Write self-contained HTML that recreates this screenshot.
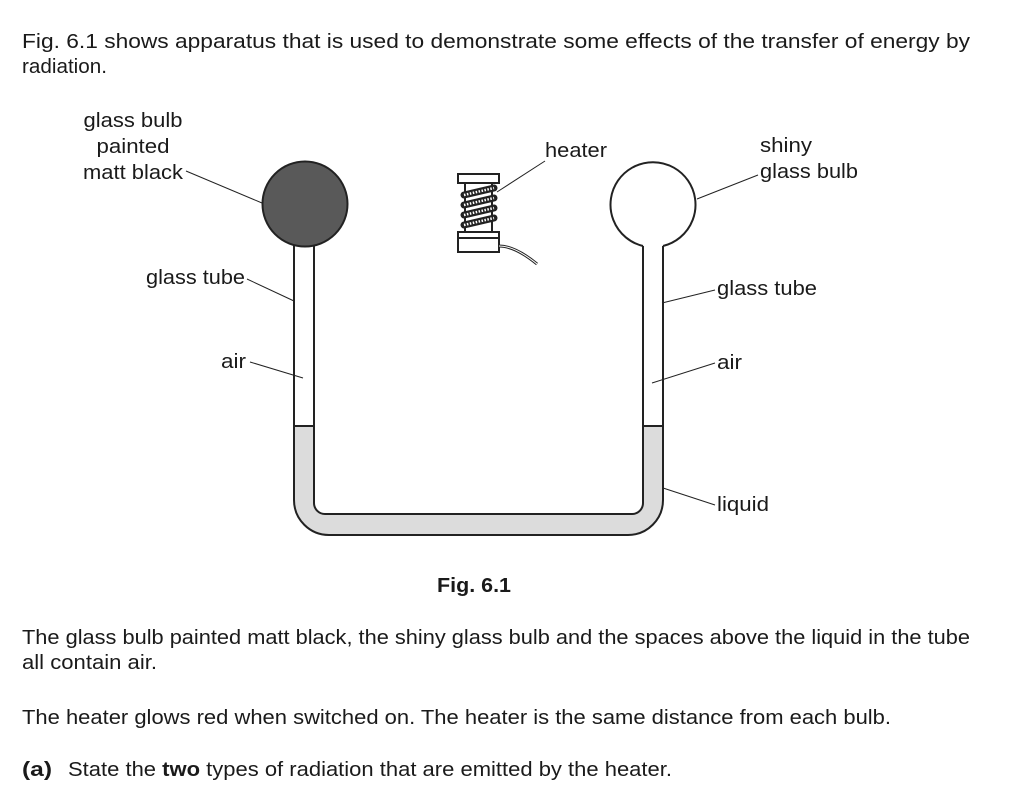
<!DOCTYPE html>
<html><head><meta charset="utf-8"><style>
html,body{margin:0;padding:0;background:#fff;}
svg{display:block;font-family:"Liberation Sans",Arial,sans-serif;}
</style></head><body>
<svg width="1024" height="790" viewBox="0 0 1024 790" xmlns="http://www.w3.org/2000/svg">
<g font-size="20.5" fill="#1a1a1a">
<text x="22" y="48" textLength="948" lengthAdjust="spacingAndGlyphs">Fig. 6.1 shows apparatus that is used to demonstrate some effects of the transfer of energy by</text>
<text x="22" y="73" textLength="85" lengthAdjust="spacingAndGlyphs">radiation.</text>
<text x="133" y="127" text-anchor="middle" textLength="99" lengthAdjust="spacingAndGlyphs">glass bulb</text>
<text x="133" y="153" text-anchor="middle" textLength="73" lengthAdjust="spacingAndGlyphs">painted</text>
<text x="133" y="179" text-anchor="middle" textLength="100" lengthAdjust="spacingAndGlyphs">matt black</text>
<text x="545" y="157" textLength="62" lengthAdjust="spacingAndGlyphs">heater</text>
<text x="760" y="152" textLength="52" lengthAdjust="spacingAndGlyphs">shiny</text>
<text x="760" y="178" textLength="98" lengthAdjust="spacingAndGlyphs">glass bulb</text>
<text x="146" y="284" textLength="99" lengthAdjust="spacingAndGlyphs">glass tube</text>
<text x="221" y="368" textLength="25" lengthAdjust="spacingAndGlyphs">air</text>
<text x="717" y="295" textLength="100" lengthAdjust="spacingAndGlyphs">glass tube</text>
<text x="717" y="369" textLength="25" lengthAdjust="spacingAndGlyphs">air</text>
<text x="717" y="511" textLength="52" lengthAdjust="spacingAndGlyphs">liquid</text>
<text x="474" y="592" text-anchor="middle" font-weight="bold" textLength="74" lengthAdjust="spacingAndGlyphs">Fig. 6.1</text>
<text x="22" y="644" textLength="948" lengthAdjust="spacingAndGlyphs">The glass bulb painted matt black, the shiny glass bulb and the spaces above the liquid in the tube</text>
<text x="22" y="669" textLength="135" lengthAdjust="spacingAndGlyphs">all contain air.</text>
<text x="22" y="724" textLength="869" lengthAdjust="spacingAndGlyphs">The heater glows red when switched on. The heater is the same distance from each bulb.</text>
<text x="22" y="776" font-weight="bold" textLength="30" lengthAdjust="spacingAndGlyphs">(a)</text>
<text x="68" y="776" textLength="604" lengthAdjust="spacingAndGlyphs">State the <tspan font-weight="bold">two</tspan> types of radiation that are emitted by the heater.</text>
</g>
<g stroke="#222" fill="none" stroke-width="1">
<line x1="186" y1="171" x2="262" y2="203"/>
<line x1="545" y1="161" x2="497" y2="192"/>
<line x1="758" y1="175" x2="697" y2="199"/>
<line x1="247" y1="279" x2="294" y2="301"/>
<line x1="250" y1="362" x2="303" y2="378"/>
<line x1="715" y1="290" x2="662" y2="303"/>
<line x1="715" y1="363" x2="652" y2="383"/>
<line x1="715" y1="505" x2="660" y2="487"/>
</g>
<path d="M294 426 V500 A35 35 0 0 0 329 535 H628 A35 35 0 0 0 663 500 V426 H643 V503 A11 11 0 0 1 632 514 H325 A11 11 0 0 1 314 503 V426 Z" fill="#dcdcdc" stroke="#222" stroke-width="2"/>
<line x1="294" y1="426" x2="314" y2="426" stroke="#222" stroke-width="2"/>
<line x1="643" y1="426" x2="663" y2="426" stroke="#222" stroke-width="2"/>
<line x1="294" y1="244" x2="294" y2="426" stroke="#222" stroke-width="2"/>
<line x1="314" y1="244" x2="314" y2="426" stroke="#222" stroke-width="2"/>
<line x1="643" y1="244" x2="643" y2="426" stroke="#222" stroke-width="2"/>
<line x1="663" y1="244" x2="663" y2="426" stroke="#222" stroke-width="2"/>
<circle cx="305" cy="204" r="42.5" fill="#595959" stroke="#222" stroke-width="2"/>
<path d="M643 246 A42.5 42.5 0 1 1 663 246" fill="#fff" stroke="#222" stroke-width="2"/>
<g stroke="#222" stroke-width="2" fill="#fff">
<rect x="458" y="174" width="41" height="9"/>
<line x1="465" y1="183" x2="465" y2="232"/>
<line x1="492" y1="183" x2="492" y2="232"/>
<rect x="458" y="232" width="41" height="20"/>
<line x1="458" y1="238" x2="499" y2="238"/>
<path d="M499 246 Q515 246 537 264" fill="none" stroke-width="3"/>
<path d="M499 246 Q515 246 537 264" fill="none" stroke="#fff" stroke-width="1"/>
</g>
<g stroke="#222" stroke-width="7" fill="none" stroke-linecap="round">
<path d="M464 195 L494 188 M464 205 L494 198 M464 215 L494 208 M464 225 L494 218"/>
</g>
<g stroke="#fff" stroke-width="2.5" fill="none" stroke-dasharray="1.5 1.5">
<path d="M464 195 L494 188 M464 205 L494 198 M464 215 L494 208 M464 225 L494 218"/>
</g>
</svg>
</body></html>
